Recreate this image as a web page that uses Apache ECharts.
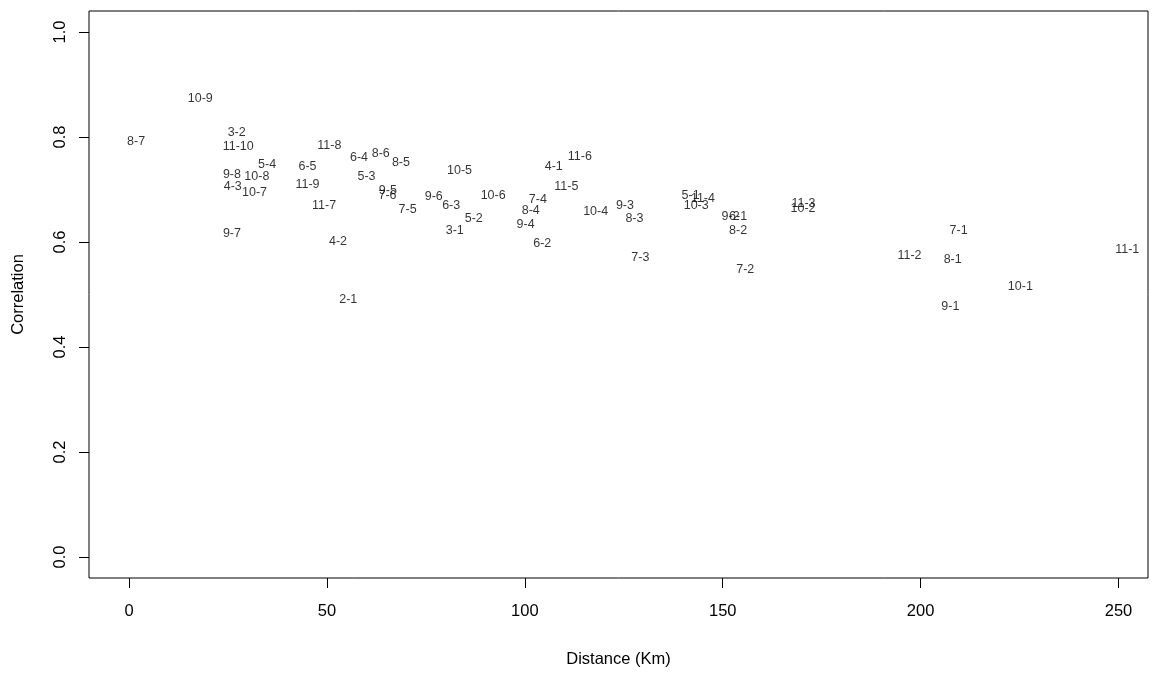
<!DOCTYPE html>
<html>
<head>
<meta charset="utf-8">
<script src="https://cdn.jsdelivr.net/npm/echarts@6/dist/echarts.min.js"></script>
<style>
html, body { margin: 0; padding: 0; background: #fff; }
#chart { width: 1163px; height: 673px; }
</style>
</head>
<body>
<div id="chart"></div>
<script>
// station pairs
var pairs = ['2-1',
	'3-1', '3-2',
	'4-1', '4-2', '4-3',
	'5-1', '5-2', '5-3', '5-4',
	'6-1', '6-2', '6-3', '6-4', '6-5',
	'7-1', '7-2', '7-3', '7-4', '7-5', '7-6',
	'8-1', '8-2', '8-3', '8-4', '8-5', '8-6', '8-7',
	'9-1', '9-2', '9-3', '9-4', '9-5', '9-6', '9-7', '9-8',
	'10-1', '10-2', '10-3', '10-4', '10-5', '10-6', '10-7', '10-8', '10-9',
	'11-1', '11-2', '11-3', '11-4', '11-5', '11-6', '11-7', '11-8', '11-9', '11-10'];
// distance (Km)
var distance = [55.4,
	82.3, 27.2,
	107.3, 52.8, 26.2,
	141.9, 87.1, 60.0, 34.9,
	153.9, 104.4, 81.4, 58.1, 45.1,
	209.6, 155.7, 129.2, 103.3, 70.4, 65.3,
	208.1, 153.9, 127.7, 101.5, 68.7, 63.6, 1.8,
	207.5, 152.0, 125.3, 100.2, 65.4, 77.0, 26.0, 26.0,
	225.2, 170.3, 143.3, 117.9, 83.5, 92.0, 31.7, 32.3, 18.0,
	252.2, 197.2, 170.4, 145.0, 110.5, 113.9, 49.3, 50.6, 45.1, 27.6];
// correlation
var correlation = [0.491,
	0.622, 0.808,
	0.743, 0.600, 0.705,
	0.688, 0.645, 0.724, 0.748,
	0.648, 0.597, 0.670, 0.760, 0.743,
	0.621, 0.548, 0.571, 0.681, 0.662, 0.689,
	0.567, 0.621, 0.645, 0.660, 0.751, 0.768, 0.791,
	0.478, 0.648, 0.670, 0.633, 0.698, 0.686, 0.616, 0.729,
	0.516, 0.664, 0.670, 0.658, 0.736, 0.688, 0.695, 0.724, 0.874,
	0.586, 0.574, 0.673, 0.682, 0.705, 0.762, 0.669, 0.784, 0.709, 0.782];
var xTicks = [0, 50, 100, 150, 200, 250];
var yTicks = [0, 0.2, 0.4, 0.6, 0.8, 1.0];

var points = [];
for (var i = 0; i < pairs.length; i++) {
	points.push({name: pairs[i], value: [distance[i], correlation[i]]});
}

var myChart = echarts.init(document.getElementById('chart'));
var font = 'Liberation Sans, Arial, sans-serif';
myChart.setOption({
	animation: false,
	backgroundColor: '#fff',
	grid: {
		left: 89,
		right: 15,
		top: 11,
		bottom: 93,
		show: true,
		borderColor: '#000',
		borderWidth: 1
	},
	xAxis: {
		type: 'value',
		min: -10.11,
		max: 257.45,
		name: 'Distance (Km)',
		nameLocation: 'middle',
		nameGap: 73,
		nameTextStyle: {color: '#000', fontSize: 16.5, fontFamily: font},
		axisLine: {show: false, onZero: false},
		splitLine: {show: false},
		axisTick: {
			show: true,
			length: 10,
			customValues: xTicks,
			lineStyle: {color: '#000'}
		},
		axisLabel: {
			customValues: xTicks,
			margin: 25,
			color: '#000',
			fontSize: 16.5,
			fontFamily: font
		}
	},
	yAxis: {
		type: 'value',
		min: -0.04,
		max: 1.04,
		name: 'Correlation',
		nameLocation: 'middle',
		nameGap: 62,
		nameTextStyle: {color: '#000', fontSize: 16.5, fontFamily: font},
		axisLine: {show: false, onZero: false},
		splitLine: {show: false},
		axisTick: {
			show: true,
			length: 10,
			customValues: yTicks,
			lineStyle: {color: '#000'}
		},
		axisLabel: {
			customValues: yTicks,
			rotate: 90,
			margin: 20,
			color: '#000',
			fontSize: 16.5,
			fontFamily: font,
			formatter: function(v) { return v.toFixed(1); }
		}
	},
	series: [{
		type: 'scatter',
		symbol: 'circle',
		symbolSize: 1,
		itemStyle: {color: 'rgba(0,0,0,0)'},
		label: {
			show: true,
			position: 'inside',
			formatter: '{b}',
			color: '#000',
			fontSize: 12.5,
			fontFamily: font
		},
		emphasis: {disabled: true},
		data: points
	}]
});
</script>
</body>
</html>
